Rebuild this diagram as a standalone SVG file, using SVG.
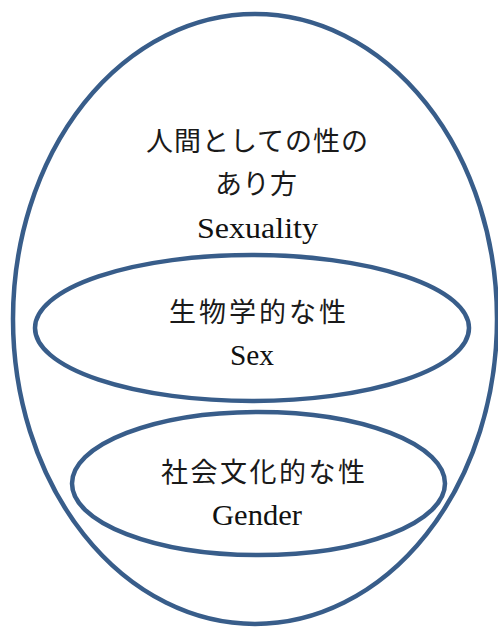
<svg xmlns="http://www.w3.org/2000/svg" width="498" height="627" viewBox="0 0 498 627">
<style>
.ring{fill:none;stroke:#385D8A;stroke-width:4.5}
.jp{font-family:"Noto Sans CJK JP","Noto Sans CJK SC",sans-serif;font-size:27px;fill:#1a1a1a}
.en{font-family:"Liberation Serif","Times New Roman",serif;font-size:29px;fill:#111}
</style>
<rect width="498" height="627" fill="#ffffff"/>
<g id="sexuality">
<ellipse class="ring" cx="255" cy="319" rx="242" ry="305"/>
<text class="jp" x="146" y="151" textLength="222" lengthAdjust="spacing">人間としての性の</text>
<text class="jp" x="215" y="194" textLength="82" lengthAdjust="spacing">あり方</text>
<text class="en" x="197" y="238" textLength="121" lengthAdjust="spacingAndGlyphs">Sexuality</text>
</g>
<g id="sex">
<ellipse class="ring" cx="252" cy="328" rx="217" ry="73"/>
<text class="jp" x="169" y="322" textLength="177" lengthAdjust="spacing">生物学的な性</text>
<text class="en" x="230" y="365" textLength="44" lengthAdjust="spacingAndGlyphs">Sex</text>
</g>
<g id="gender">
<ellipse class="ring" cx="258.5" cy="483.5" rx="186.5" ry="71.5"/>
<text class="jp" x="161" y="482" textLength="204" lengthAdjust="spacing">社会文化的な性</text>
<text class="en" x="212" y="525" textLength="90" lengthAdjust="spacingAndGlyphs">Gender</text>
</g>
<g id="connectors"></g>
</svg>
